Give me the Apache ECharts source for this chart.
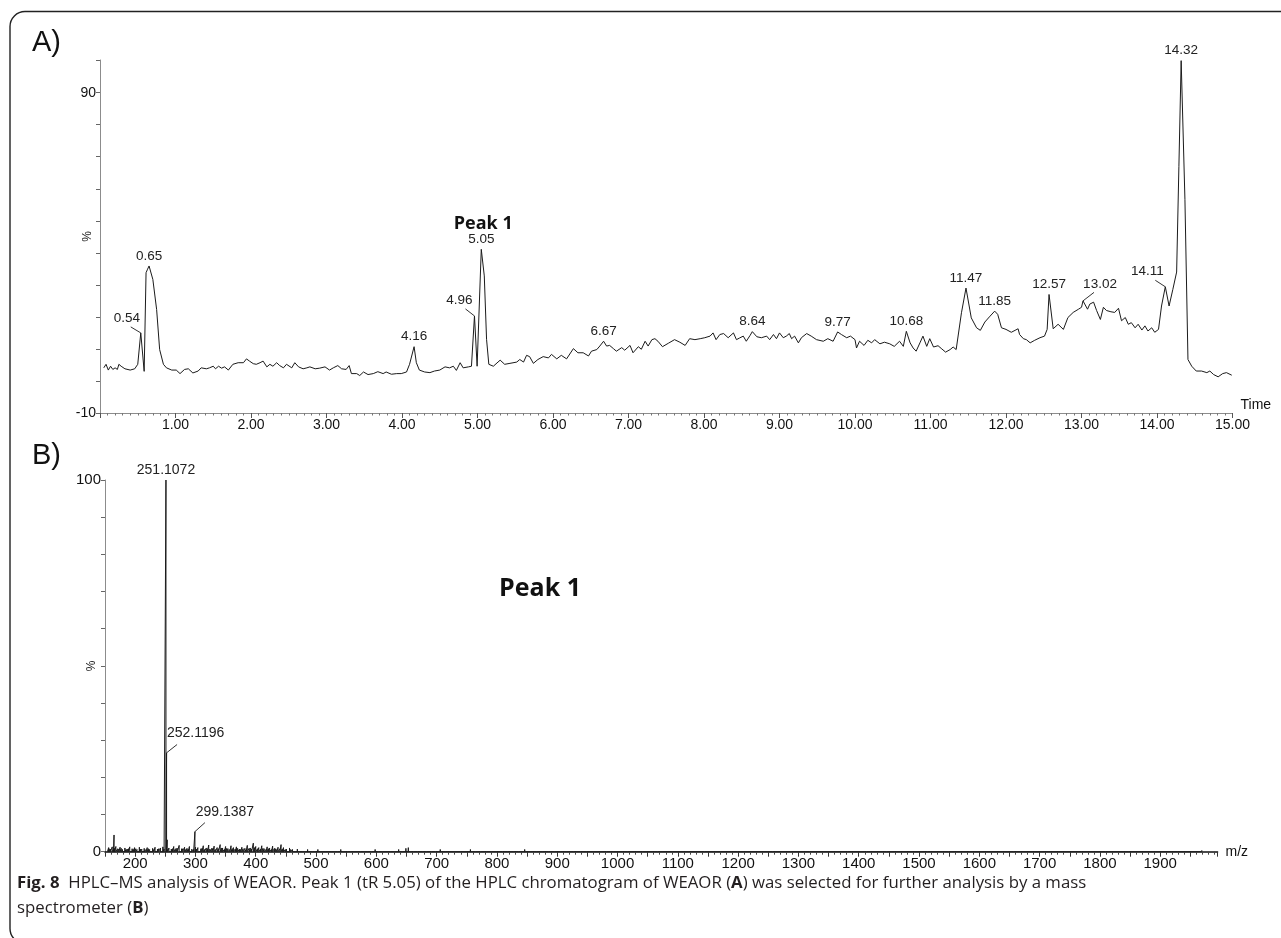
<!DOCTYPE html>
<html><head><meta charset="utf-8">
<script src="https://cdn.jsdelivr.net/npm/echarts@6/dist/echarts.min.js"></script>
<style>html,body{margin:0;padding:0;background:#fff}#c{width:1281px;height:938px}</style>
</head><body><div id="c"></div>
<script>
// ---------- Panel A: HPLC chromatogram (time [min], %) ----------
const chromTrace = [
[0.05,4.1],[0.08,5.2],[0.11,3.4],[0.14,4.6],[0.17,3.6],[0.20,4.1],[0.23,3.6],[0.25,5.2],[0.28,4.6],[0.33,3.8],[0.40,3.4],[0.46,3.8],[0.50,5.2],[0.54,15.0],[0.585,3.0],[0.61,33.8],[0.63,34.9],[0.65,35.9],[0.70,31.7],[0.75,22.3],[0.79,9.8],[0.84,5.2],[0.88,4.1],[0.95,3.4],[1.01,3.4],[1.06,2.3],[1.12,3.6],[1.17,3.8],[1.23,2.5],[1.30,3.1],[1.34,4.1],[1.41,3.8],[1.45,4.1],[1.50,4.6],[1.53,3.8],[1.57,4.6],[1.61,4.0],[1.65,4.4],[1.70,3.4],[1.76,5.2],[1.83,5.7],[1.90,5.7],[1.94,6.9],[1.98,6.2],[2.03,5.4],[2.07,5.2],[2.12,5.7],[2.16,6.2],[2.21,4.4],[2.25,5.2],[2.29,4.6],[2.34,5.7],[2.38,4.8],[2.43,4.1],[2.47,5.2],[2.54,4.1],[2.58,5.7],[2.63,4.4],[2.69,3.8],[2.74,4.1],[2.78,4.4],[2.85,3.8],[2.91,4.0],[2.98,4.4],[3.04,3.4],[3.09,4.1],[3.15,4.8],[3.20,3.8],[3.26,3.6],[3.30,4.8],[3.33,2.3],[3.40,2.3],[3.44,1.7],[3.49,2.8],[3.55,2.0],[3.62,2.3],[3.68,2.9],[3.75,2.3],[3.79,2.8],[3.86,2.1],[3.93,2.3],[3.99,2.3],[4.06,2.8],[4.10,5.2],[4.16,10.7],[4.19,5.7],[4.23,3.4],
[4.30,2.8],[4.37,2.6],[4.43,3.1],[4.50,3.4],[4.57,4.4],[4.63,4.1],[4.68,4.6],[4.72,3.3],[4.77,5.7],[4.81,4.1],[4.88,4.4],[4.92,4.6],[4.96,20.3],[4.995,4.6],[5.02,4.8],[5.05,41.1],[5.09,32.8],[5.12,13.0],[5.15,5.2],[5.21,4.6],[5.30,6.5],[5.36,5.2],[5.43,5.5],[5.52,5.9],[5.56,6.7],[5.61,5.9],[5.65,8.0],[5.69,7.6],[5.74,5.5],[5.80,6.7],[5.87,7.6],[5.94,7.2],[5.98,8.3],[6.05,6.9],[6.11,8.0],[6.18,6.9],[6.27,10.1],[6.33,8.8],[6.40,8.8],[6.47,7.8],[6.51,9.3],[6.58,9.8],[6.62,10.9],[6.67,12.4],[6.71,10.9],[6.75,11.1],[6.80,10.1],[6.84,9.3],[6.91,10.4],[6.95,9.6],[7.02,11.1],[7.06,8.8],[7.13,10.7],[7.17,9.9],[7.22,12.4],[7.26,10.9],[7.31,12.9],[7.35,13.2],[7.39,12.4],[7.45,10.7],[7.53,11.8],[7.61,12.9],[7.68,12.1],[7.75,11.1],[7.81,13.2],[7.88,12.9],[7.95,13.2],[8.01,13.5],[8.08,14.0],[8.12,15.0],[8.16,12.9],[8.21,14.5],[8.26,14.8],[8.32,13.5],[8.39,15.0],[8.43,12.9],
[8.47,13.4],[8.52,14.0],[8.56,12.4],[8.61,14.2],[8.64,15.4],[8.70,13.8],[8.76,13.5],[8.83,14.0],[8.87,12.9],[8.92,14.5],[8.96,13.2],[9.00,15.0],[9.05,13.5],[9.09,14.0],[9.13,14.8],[9.16,13.2],[9.20,14.0],[9.25,11.9],[9.29,13.5],[9.36,14.8],[9.42,14.0],[9.49,12.9],[9.58,12.4],[9.64,13.2],[9.71,12.4],[9.77,15.3],[9.82,14.5],[9.89,13.5],[9.94,14.0],[10.00,12.9],[10.02,10.3],[10.06,12.4],[10.12,11.1],[10.17,12.7],[10.22,11.9],[10.26,12.9],[10.33,11.6],[10.39,12.1],[10.46,11.6],[10.52,10.8],[10.59,12.4],[10.64,10.8],[10.68,15.5],[10.73,11.9],[10.77,10.3],[10.81,9.3],[10.86,11.9],[10.90,14.0],[10.95,10.8],[10.99,13.2],[11.04,10.6],[11.10,11.0],[11.15,10.0],[11.20,9.0],[11.26,9.8],[11.30,10.6],[11.34,9.8],[11.41,21.3],[11.47,29.0],[11.54,19.7],[11.61,16.6],[11.66,15.8],[11.72,18.4],[11.78,20.0],[11.85,21.8],[11.89,20.8],[11.94,16.6],[12.00,16.1],[12.07,15.2],[12.12,15.8],[12.16,16.3],[12.18,14.5],[12.23,13.2],[12.27,12.9],[12.32,11.9],[12.38,12.7],[12.45,13.5],[12.51,14.0],[12.545,16.1],[12.57,27.0],[12.625,16.3],
[12.69,17.7],[12.76,16.1],[12.82,19.8],[12.89,21.4],[12.96,22.4],[13.00,23.0],[13.02,25.0],[13.08,22.4],[13.11,24.0],[13.16,24.6],[13.20,22.0],[13.25,19.2],[13.29,23.0],[13.33,22.0],[13.39,21.6],[13.44,21.4],[13.49,22.7],[13.53,18.8],[13.58,19.8],[13.62,17.7],[13.66,18.2],[13.71,16.6],[13.75,17.7],[13.80,15.9],[13.84,17.2],[13.88,15.6],[13.93,16.6],[13.97,15.2],[14.02,16.1],[14.06,23.4],[14.11,29.4],[14.16,23.4],[14.21,28.6],[14.26,34.0],[14.29,67.0],[14.32,100.0],[14.37,56.7],[14.41,6.7],[14.46,4.6],[14.52,3.1],[14.59,3.1],[14.66,2.6],[14.70,3.1],[14.75,2.0],[14.81,1.3],[14.87,2.3],[14.92,2.6],[14.99,1.8]
];
const chromPeakLabels = [
[0.54,15.0,'0.54'],[0.65,35.9,'0.65'],[4.16,10.7,'4.16'],[4.96,20.3,'4.96'],[5.05,41.1,'5.05'],
[6.67,12.4,'6.67'],[8.64,15.4,'8.64'],[9.77,15.3,'9.77'],[10.68,15.5,'10.68'],[11.47,29.0,'11.47'],
[11.85,21.8,'11.85'],[12.57,27.0,'12.57'],[13.02,25.0,'13.02'],[14.11,29.4,'14.11'],[14.32,100.0,'14.32']
];
const chromYLabels = [90, -10];
const chromXRange = [0, 15];
const chromYRange = [-10, 100.2];

// ---------- Panel B: mass spectrum of Peak 1 (m/z, %) ----------
const msPeaks = [[165,4.5],[251.1072,100],[252.1196,26.6],[253.12,3.2],[299.1387,5.4],[300.14,1.2]];
const msNoise = [
[156,1.1],[159,0.7],[162,1.3],[168,1.4],[171,0.8],[175,1.2],[179,0.6],[183,1.0],[187,0.7],[191,1.3],[195,0.8],[199,1.1],[203,0.6],[207,1.2],[211,0.7],[215,0.9],[220,1.1],[224,0.6],[229,0.9],[233,1.2],[237,0.7],[242,1.0],[246,1.3],[256,1.0],[260,0.7],[264,1.4],[268,0.9],[273,1.7],[277,0.8],[282,1.2],[286,0.9],[290,1.4],[294,0.7],[304,1.1],[309,0.8],[313,1.6],[318,1.0],[322,1.8],[327,0.9],[331,1.5],[336,1.1],[341,1.9],[345,1.0],[350,1.4],[354,0.8],[359,1.6],[363,1.1],[368,1.3],[373,0.7],[377,1.2],[382,0.9],[386,1.7],[391,1.0],[396,2.3],[400,1.4],[405,1.1],[410,1.6],[414,0.8],[419,1.3],[423,1.0],[428,1.5],[433,0.8],[437,1.2],[442,1.9],[446,1.1],[451,0.7],[456,1.0],[461,0.6],[469,0.7],[477,0.5],[486,0.6],[494,0.4],[503,0.6],[511,0.4],[520,0.5],[531,0.4],[541,0.6],[552,0.4],[563,0.5],[574,0.3],[586,0.5],[598,0.6],[610,0.4],[623,0.5],[637,0.6],[649,0.9],[653,1.1],[662,0.5],[676,0.4],[691,0.5],[706,0.6],[722,0.4],[739,0.5],[756,0.6],[773,0.4],[791,0.5],[809,0.4],[827,0.5],[846,0.6],[865,0.4],[885,0.5],[906,0.4],[927,0.5],[949,0.4],[971,0.5],[994,0.4],[1017,0.5],[1041,0.4],[1066,0.5],[1091,0.4],[1117,0.5],[1144,0.4],[1171,0.5],[1199,0.4],[1228,0.5],[1257,0.4],[1287,0.5],[1318,0.4],[1349,0.5],[1381,0.4],[1413,0.5],[1446,0.4],[1480,0.5],[1514,0.4],[1549,0.5],[1584,0.4],[1620,0.5],[1657,0.4],[1694,0.5],[1732,0.4],[1770,0.5],[1809,0.4],[1848,0.5],[1888,0.4],[1928,0.5],[1969,0.4]
];
const msNoiseFine = [
[154,0.5],[157,0.8],[160,0.4],[164,0.6],[166,0.9],[170,0.5],[173,0.7],[177,0.9],[181,0.5],[185,0.6],[189,0.8],[193,0.5],[197,0.6],[201,0.8],[205,0.4],[209,0.7],[213,0.5],[218,0.6],[222,0.8],[226,0.5],[231,0.6],[235,0.4],[239,0.8],[244,0.5],[248,0.7],[254,0.6],[258,0.5],[262,0.8],[266,0.6],[270,0.9],[275,0.5],[279,0.8],[284,0.6],[288,0.7],[292,0.5],[297,0.6],[302,0.7],[306,0.5],[311,0.9],[315,0.6],[320,0.8],[324,0.7],[329,0.9],[333,0.6],[338,0.8],[343,1.0],[348,0.6],[352,0.9],[357,0.6],[361,0.8],[366,0.7],[370,0.9],[375,0.6],[379,0.8],[384,0.6],[389,0.9],[393,0.7],[398,1.1],[403,0.8],[408,0.7],[412,0.9],[417,0.6],[421,0.8],[426,0.6],[431,0.9],[435,0.6],[440,0.8],[444,0.7],[449,0.6],[454,0.5],[458,0.6],[465,0.4],[473,0.5],[481,0.4],[490,0.5],[498,0.3],[507,0.4],[515,0.3],[525,0.4],[536,0.3],[546,0.4],[557,0.3],[568,0.4],[580,0.3],[592,0.4],[604,0.3],[616,0.4],[630,0.3],[643,0.4],[657,0.5],[668,0.3],[683,0.4],[698,0.3],[714,0.4],[730,0.3],[747,0.4],[764,0.3],[782,0.4],[800,0.3],[818,0.4],[836,0.3],[855,0.4],[875,0.3],[895,0.4],[916,0.3],[938,0.4],[960,0.3],[982,0.4]
];
const msPeakLabels = [[251.1072,100,'251.1072'],[252.1196,26.6,'252.1196'],[299.1387,5.4,'299.1387']];
const msYLabels = [100, 0];
const msXRange = [150, 1995];

// ---------- texts ----------
const panelTitles = ['A)', 'B)'];
const yAxisTitle = '%';
const xAxisTitles = ['Time', 'm/z'];
const peakTitle = 'Peak 1';
const captionLine1 = '{b|Fig. 8}  HPLC–MS analysis of WEAOR. Peak 1 (tR 5.05) of the HPLC chromatogram of WEAOR ({b|A}) was selected for further analysis by a mass';
const captionLine2 = 'spectrometer ({b|B})';

// ---------- style / layout (not data) ----------
const FONT = '"Liberation Sans", Arial, sans-serif';
const CAPFONT = '"Open Sans", sans-serif';
const AXIS_GRAY = '#8c8c8c';
const INK = '#1b1b1b';
const CAPSIZE = 16.8;
const labelPosA = {
  '0.54': {dx:-14, dy:-8, lead:[-10,-6]},
  '4.96': {dx:-15, dy:-9, lead:[-9,-7]},
  '13.02': {dx:17, dy:-10, lead:[11,-8.5]},
  '14.11': {dx:-18, dy:-9, lead:[-10,-6.5]}
};
const labelPosB = {
  '252.1196': {dx:29, dy:-13, lead:[10.5,-8.3]},
  '299.1387': {dx:30, dy:-12, lead:[10,-9]}
};

const sticks = msPeaks.concat(msNoise, msNoiseFine).sort((a,b)=>a[0]-b[0]);
const stickLine = [];
sticks.forEach(p => { stickLine.push([p[0],0],[p[0],p[1]],[p[0],0]); });

const chart = echarts.init(document.getElementById('c'), null, {renderer:'canvas'});

const option = {
  animation: false,
  backgroundColor: '#fff',
  grid: [
    {left:100, right:48.5, top:60, bottom:525, containLabel:false, outerBoundsMode:'none'},
    {left:105, right:63.5, top:480, bottom:86.3, containLabel:false, outerBoundsMode:'none'}
  ],
  xAxis: [
    {gridIndex:0, type:'value', min:chromXRange[0], max:chromXRange[1], interval:1,
     axisLine:{onZero:false, lineStyle:{color:AXIS_GRAY, width:1}},
     axisTick:{show:true, length:5, lineStyle:{color:'#555'}},
     minorTick:{show:true, splitNumber:10, length:2.5, lineStyle:{color:'#777'}},
     splitLine:{show:false},
     axisLabel:{formatter:v => v===0 ? '' : v.toFixed(2), color:'#111', fontSize:14, fontFamily:FONT, margin:5}},
    {gridIndex:1, type:'value', min:msXRange[0], max:msXRange[1], interval:50,
     axisLine:{onZero:false, lineStyle:{color:'#111', width:1.6}},
     axisTick:{show:true, length:5, lineStyle:{color:'#333'}},
     minorTick:{show:true, splitNumber:5, length:3, lineStyle:{color:'#444'}},
     splitLine:{show:false},
     axisLabel:{formatter:v => (v%100===0) ? String(v) : '', color:'#111', fontSize:15, fontFamily:FONT, margin:5, showMaxLabel:false}}
  ],
  yAxis: [
    {gridIndex:0, type:'value', min:chromYRange[0], max:chromYRange[1], interval:10,
     axisLine:{show:true, onZero:false, lineStyle:{color:AXIS_GRAY, width:1}},
     axisTick:{show:true, length:4, lineStyle:{color:'#666'}},
     splitLine:{show:false},
     axisLabel:{formatter:v => chromYLabels.includes(v) ? String(v) : '', color:'#111', fontSize:14, fontFamily:FONT, margin:4, showMaxLabel:false}},
    {gridIndex:1, type:'value', min:0, max:100, interval:10,
     axisLine:{show:true, onZero:false, lineStyle:{color:AXIS_GRAY, width:1}},
     axisTick:{show:true, length:4, lineStyle:{color:'#666'}},
     splitLine:{show:false},
     axisLabel:{formatter:v => msYLabels.includes(v) ? String(v) : '', color:'#111', fontSize:15, fontFamily:FONT, margin:4}}
  ],
  series: [
    {type:'line', xAxisIndex:0, yAxisIndex:0, data:chromTrace, symbol:'none', smooth:false,
     lineStyle:{color:INK, width:1}, z:3},
    {type:'line', xAxisIndex:1, yAxisIndex:1, data:stickLine, symbol:'none', smooth:false,
     lineStyle:{color:INK, width:1}, z:3}
  ]
};
chart.setOption(option);

const g = [];
g.push({type:'rect', silent:true, shape:{x:10, y:11.5, width:1300, height:932, r:15},
        style:{fill:'none', stroke:'#222', lineWidth:1.4}});
g.push({type:'text', style:{x:32, y:43, text:panelTitles[0], font:'29px ' + FONT, fill:'#111', textVerticalAlign:'middle'}});
g.push({type:'text', style:{x:32, y:456, text:panelTitles[1], font:'29px ' + FONT, fill:'#111', textVerticalAlign:'middle'}});

[[0, chromYRange, chromXRange[0], 12], [1, [0, 100], msXRange[0], 13]].forEach(([gi, r, x0, off]) => {
  const p = chart.convertToPixel({gridIndex:gi}, [x0, (r[0] + r[1]) / 2]);
  g.push({type:'text', x:p[0] - off, y:p[1], rotation:Math.PI/2,
    style:{x:0, y:0, text:yAxisTitle, font:'12px ' + FONT, fill:'#222', textAlign:'center', textVerticalAlign:'middle'}});
});
const tEnd = chart.convertToPixel({gridIndex:0}, [chromXRange[1], chromYRange[0]]);
g.push({type:'text', style:{x:tEnd[0] + 8, y:tEnd[1] - 1, text:xAxisTitles[0], font:'14px ' + FONT, fill:'#111',
  textAlign:'left', textVerticalAlign:'bottom'}});
const mEnd = chart.convertToPixel({gridIndex:1}, [msXRange[1], 0]);
g.push({type:'text', style:{x:mEnd[0] + 8, y:mEnd[1], text:xAxisTitles[1], font:'14px ' + FONT, fill:'#111',
  textAlign:'left', textVerticalAlign:'middle'}});

function addLabels(list, pos, gi, fontSize) {
  list.forEach(l => {
    const p = chart.convertToPixel({gridIndex:gi}, [l[0], l[1]]);
    const o = pos[l[2]] || {dx:0, dy:-3};
    g.push({type:'text', style:{x:p[0]+o.dx, y:p[1]+o.dy, text:l[2], font:fontSize+'px ' + FONT,
      fill:'#222', textAlign:'center', textVerticalAlign:'bottom'}});
    if (o.lead) {
      g.push({type:'line', shape:{x1:p[0]+o.lead[0], y1:p[1]+o.lead[1], x2:p[0], y2:p[1]},
        style:{stroke:'#333', lineWidth:1}});
    }
  });
}
addLabels(chromPeakLabels, labelPosA, 0, 13.5);
addLabels(msPeakLabels, labelPosB, 1, 14);

const pk = chart.convertToPixel({gridIndex:0}, [chromPeakLabels[4][0], chromPeakLabels[4][1]]);
g.push({type:'text', style:{x:pk[0]+2, y:pk[1]-16, text:peakTitle, font:'bold 18px ' + CAPFONT, fill:'#111',
  textAlign:'center', textVerticalAlign:'bottom'}});
g.push({type:'text', style:{x:540, y:589, text:peakTitle, font:'bold 25px ' + CAPFONT, fill:'#111',
  textAlign:'center', textVerticalAlign:'middle'}});

const richCap = {b:{fontFamily:CAPFONT, fontWeight:'bold', fontSize:CAPSIZE, fill:'#231f20'}};
g.push({type:'text', style:{x:17, y:883, text:captionLine1, font:CAPSIZE+'px ' + CAPFONT, fill:'#231f20',
  textVerticalAlign:'middle', rich:richCap}});
g.push({type:'text', style:{x:17, y:908, text:captionLine2, font:CAPSIZE+'px ' + CAPFONT, fill:'#231f20',
  textVerticalAlign:'middle', rich:richCap}});

chart.setOption({graphic:{elements:g}});
</script>
</body></html>
